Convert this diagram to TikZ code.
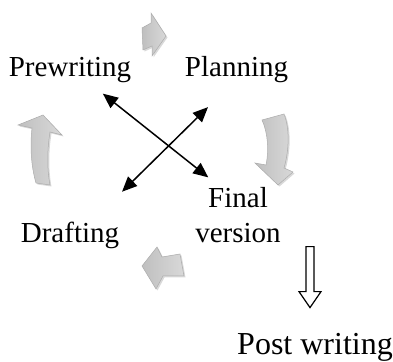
\documentclass[tikz,border=0pt]{standalone}
\usepackage{fontspec}
\setmainfont{Liberation Serif}
\usetikzlibrary{arrows.meta,shadows}

\begin{document}
\begin{tikzpicture}[x=1pt, y=1pt,
  stage/.style={font=\fontsize{29}{35}\selectfont, inner sep=2pt, align=center},
  cross/.style={{Triangle[length=15pt,width=13pt]}-{Triangle[length=15pt,width=13pt]}, line width=1.5pt},
  block/.style={draw=gray!65, line width=0.5pt, left color=gray!50, middle color=white, right color=gray!30,
                drop shadow={opacity=0.3, shadow xshift=1.5pt, shadow yshift=-1.5pt}},
  hollow/.style={draw=black, line width=1.2pt, fill=white}]
\useasboundingbox (0,0) rectangle (393,361);

\node[stage, anchor=base]  (prew)  at ( 70,284) {Prewriting};
\node[stage, anchor=base]  (plan)  at (236.5,284) {Planning};
\node[stage, anchor=base]  (draft) at ( 70,118) {Drafting};
\node[stage, anchor=north] (final) at (238,176) {Final\\version};
\node[stage, anchor=base, font=\fontsize{32}{35}\selectfont] (post) at (315,6) {Post writing};

\draw[block] (151,348) -- (166,325) -- (152,305) -- (152,315) -- (143,311) -- (142,333) -- (151,338) -- cycle;
\draw[block] (262,241) .. controls (268,228) and (269,210) .. (266,196) -- (255,198) -- (278,176)
             -- (293,189) -- (284,193) .. controls (289,210) and (290,232) .. (284,247) -- cycle;
\draw[block] (142,95) -- (157,114) -- (162,104) -- (180,107) -- (184,85) -- (163,85) -- (156,72) -- cycle;
\draw[block] (43,246) -- (62,226) -- (50,229) .. controls (47,210) and (47,192) .. (50,176)
             -- (36,178) .. controls (31,195) and (30,215) .. (32,233) -- (18,236) -- cycle;

\draw[cross, shorten <=42pt, shorten >=38pt] ([yshift=3pt]prew.center) -- ([yshift=-16pt]final.north);
\draw[cross, shorten <=40pt, shorten >=73pt] ([yshift=-9pt]plan.center) -- ([yshift=-7pt]draft.center);

\draw[hollow] ([shift={(-5,24)}]post.north) -- ++(11,16) -- ++(-7,0) -- ++(0,45) -- ++(-8,0)
              -- ++(0,-45) -- ++(-7,0) -- cycle;

\end{tikzpicture}
\end{document}
